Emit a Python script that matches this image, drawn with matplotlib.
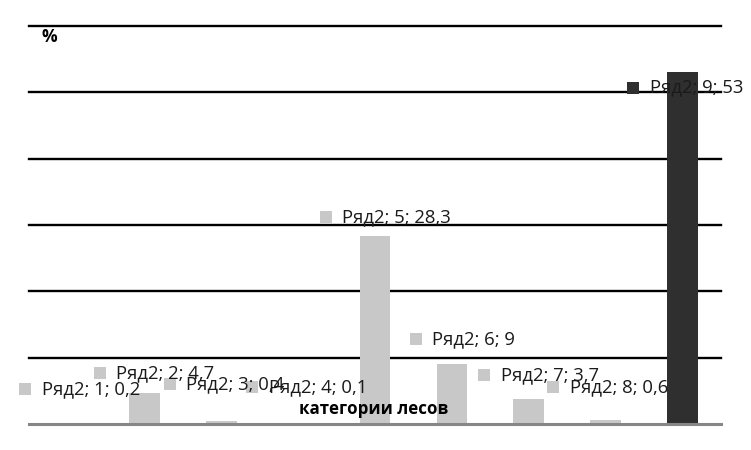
import matplotlib
matplotlib.use("Agg")
import matplotlib.pyplot as plt

categories = [1, 2, 3, 4, 5, 6, 7, 8, 9]
values = [0.2, 4.7, 0.4, 0.1, 28.3, 9, 3.7, 0.6, 53]
value_labels = ["0,2", "4,7", "0,4", "0,1", "28,3", "9", "3,7", "0,6", "53"]
series_name = "Ряд2"
y_ticks = [10, 20, 30, 40, 50, 60]

# where the data labels sit (data coords of the legend key square)
label_x = [-0.55, 0.42, 1.33, 2.40, 3.36, 4.53, 5.42, 6.32, 7.36]
label_y = [5.3, 7.7, 6.0, 5.6, 31.2, 12.8, 7.4, 5.6, 50.7]

light = "#c8c8c8"
dark = "#2f2f2f"
colors = [light] * 8 + [dark]

plt.rcParams["font.family"] = ["Open Sans", "DejaVu Sans"]

fig = plt.figure(figsize=(7.51, 4.5), dpi=100)
ax = fig.add_axes([29 / 751, 26 / 450, 692 / 751, 398 / 450])

x = list(range(len(categories)))
ax.bar(x, values, width=0.4, color=colors, zorder=3)

for t in y_ticks:
    ax.axhline(t, color="black", lw=1.7, zorder=1, clip_on=False)
ax.axhline(0, color="#868686", lw=2.2, zorder=4, clip_on=False)

ax.set_xlim(-0.5, len(categories) - 0.5)
ax.set_ylim(0, 60)
for s in ax.spines.values():
    s.set_visible(False)
ax.set_xticks([])
ax.set_yticks([])

for i in x:
    ax.scatter(label_x[i], label_y[i], marker="s", s=70, color=colors[i],
               zorder=5, clip_on=False, linewidths=0)
    ax.annotate(f"{series_name}; {categories[i]}; {value_labels[i]}",
                xy=(label_x[i], label_y[i]), xytext=(12, 0),
                textcoords="offset points", va="center", ha="left",
                fontsize=13.3, color="#1a1a1a", zorder=6,
                annotation_clip=False)

fig.text(42 / 751, 1 - 37 / 450, "%", fontsize=12.5, fontweight="bold",
         va="center", ha="left")
fig.text(374 / 751, 1 - 409 / 450, "категории лесов", fontsize=12.2,
         fontweight="bold", va="center", ha="center")

fig.savefig("out.png", dpi=100)
